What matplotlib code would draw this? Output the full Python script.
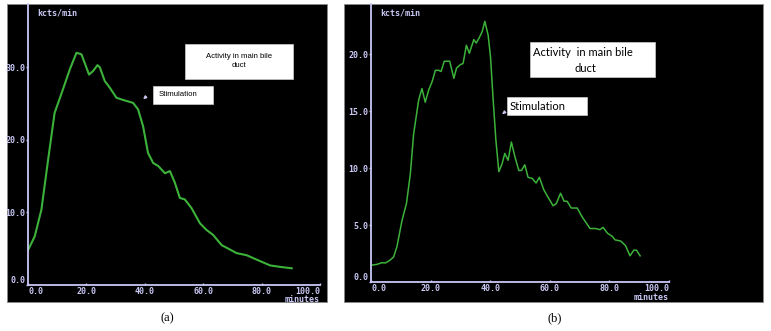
import numpy as np
import matplotlib.pyplot as plt
from matplotlib.patches import Rectangle

# panel (a): activity in main bile duct, kcts/min vs minutes
xA = [0, 2.3, 4.6, 6.9, 9.1, 12, 14.3, 16.6, 18.3, 20.9, 22.3, 23.8, 24.6, 26.3, 28,
      30.3, 32.6, 36, 37.7, 39.4, 41.1, 42.9, 44.6, 46.9, 48.6, 50.3, 52, 53.7, 56,
      58.9, 61.1, 63.4, 66.3, 69.1, 71.4, 74.9, 78.3, 82.9, 86.3, 90.3]
yA = [4.8, 6.7, 10.4, 17.3, 23.7, 27, 29.7, 32, 31.8, 29, 29.5, 30.3, 30, 28.1, 27.2,
      25.8, 25.5, 25.1, 24.2, 21.9, 18.2, 16.8, 16.4, 15.4, 15.7, 14.1, 12, 11.8, 10.6,
      8.5, 7.6, 6.9, 5.5, 4.9, 4.4, 4.1, 3.5, 2.7, 2.5, 2.3]

# panel (b)
xB = [0, 2, 3.7, 4.8, 6.3, 7.6, 8.7, 10.4, 11.9, 13.2, 14.3, 16, 17.1, 18.2, 19.4,
      20.5, 21.6, 22.7, 23.5, 24.6, 26.4, 27.8, 28.7, 30, 30.9, 32, 33, 34.5, 35.3,
      36.2, 37.3, 38.2, 39.3, 40.1, 41, 41.9, 42.9, 44, 44.9, 46, 47.1, 48.3, 49.6,
      50.5, 51.6, 52.7, 54.1, 55.4, 56.5, 58, 59.3, 61.1, 62.2, 63.6, 64.8, 65.8,
      67.2, 69.2, 70.9, 73.5, 75.4, 76.8, 77.9, 79.3, 81, 81.9, 83.8, 85.4, 86.9,
      88.2, 89.1, 90.3]
yB = [1.47, 1.55, 1.7, 1.67, 1.9, 2.2, 3.1, 5.4, 6.9, 9.5, 13, 16, 17, 15.8, 16.9,
      17.6, 18.6, 18.6, 18.5, 19.4, 19.4, 17.9, 18.8, 19.1, 19.2, 20.8, 20.1, 21.3, 21,
      21.4, 22, 22.9, 21.7, 19.8, 16, 12.5, 9.7, 10.4, 11.3, 10.7, 12.3, 11, 9.8,
      9.8, 10.3, 9.2, 9.1, 8.7, 9.2, 8.1, 7.5, 6.7, 6.9, 7.8, 7.1, 7.1,
      6.5, 6.5, 5.7, 4.7, 4.7, 4.6, 4.8, 4.3, 4.0, 3.7, 3.6, 3.2, 2.3,
      2.8, 2.8, 2.3]

xticks = [0, 20, 40, 60, 80, 100]
yticksA = [0, 10, 20, 30]
yticksB = [0, 5, 10, 15, 20]

W, H = 771, 331
AXC = '#c9c8f5'
GREEN = '#3cb23a'

fig = plt.figure(figsize=(7.71, 3.31), dpi=100)
fig.patch.set_facecolor('white')


def fr(x0, y0, x1, y1):
    # pixel box (top-left origin) -> figure fraction [l, b, w, h]
    return [x0 / W, 1 - y1 / H, (x1 - x0) / W, (y1 - y0) / H]


def panel(bg, ax_box, ymax, xs, ys, yt, lw):
    l, b, w, h = fr(*bg)
    rect = Rectangle((l, b), w, h, transform=fig.transFigure,
                     facecolor='black', edgecolor='#888888', lw=0.6, zorder=-5)
    fig.patches.append(rect)
    ax = fig.add_axes(fr(*ax_box))
    ax.set_facecolor('none')
    ax.plot(xs, ys, color=GREEN, lw=lw)
    ax.set_xlim(0, 100)
    ax.set_ylim(0, ymax)
    for s in ['top', 'right']:
        ax.spines[s].set_visible(False)
    for s in ['left', 'bottom']:
        ax.spines[s].set_color(AXC)
        ax.spines[s].set_linewidth(1.3)
    ax.set_xticks(xticks)
    ax.set_xticklabels(['%.1f' % v for v in xticks])
    ax.set_yticks(yt)
    ax.set_yticklabels(['%.1f' % v for v in yt])
    ax.tick_params(colors=AXC, labelsize=6, length=1.5, width=1, pad=0.5)
    ax.tick_params(axis='x', direction='in', pad=1.5)
    for t in ax.get_xticklabels() + ax.get_yticklabels():
        t.set_family('DejaVu Sans Mono')
        t.set_weight('bold')
    ax.get_xticklabels()[0].set_ha('left')
    ax.get_xticklabels()[-1].set_ha('right')
    ax.get_yticklabels()[0].set_va('bottom')
    bottom_px = ax_box[3]
    m = fig.text(ax_box[2] / W, 1 - (bottom_px + 15) / H, 'minutes', color=AXC, fontsize=6,
                 family='DejaVu Sans Mono', weight='bold', ha='right', va='center')
    m.set_clip_box(rect.get_window_extent(fig.canvas.get_renderer()))
    m.set_clip_on(True)
    ax.text(0.03, 0.985, 'kcts/min', transform=ax.transAxes, color=AXC, fontsize=6,
            family='DejaVu Sans Mono', weight='bold', ha='left', va='top')
    return ax


axA = panel((7, 4, 327, 302), (28, 4, 320, 285), 280 / 7.23, xA, yA, yticksA, 1.5)
axB = panel((344, 4, 763, 302), (371, 4, 669, 282), 278 / 11.38, xB, yB, yticksB, 1.1)


# white annotation boxes (pixel coords)
def wbox(x0, y0, x1, y1):
    l, b, w, h = fr(x0, y0, x1, y1)
    fig.patches.append(Rectangle((l, b), w, h, transform=fig.transFigure,
                                 facecolor='white', edgecolor='#cccccc', lw=0.5, zorder=3))


wbox(185, 44, 293, 79)
fig.text(239 / W, 1 - 61 / H, 'Activity in main bile\nduct', ha='center', va='center',
         fontsize=5.6, family='Liberation Sans', linespacing=1.3, zorder=4)
wbox(153, 86, 213, 104)
fig.text(159 / W, 1 - 95 / H, 'Stimulation', ha='left', va='center',
         fontsize=5.6, family='Liberation Sans', zorder=4)
wbox(530, 42, 655, 77)
fig.text(533 / W, 1 - 52 / H, 'Activity  in main bile', ha='left', va='center',
         fontsize=8, family='Lato', zorder=4)
fig.text(585 / W, 1 - 68 / H, 'duct', ha='center', va='center',
         fontsize=8, family='Lato', zorder=4)
wbox(507, 97, 587, 115)
fig.text(510 / W, 1 - 106 / H, 'Stimulation', ha='left', va='center',
         fontsize=8, family='Lato', zorder=4)

# small arrows pointing at stimulation time
for tip, tail in [((141, 101), (148, 95)), ((500, 116), (506, 111))]:
    fig.add_artist(plt.Annotation('', xy=(tip[0] / W, 1 - tip[1] / H),
                                  xytext=(tail[0] / W, 1 - tail[1] / H),
                                  xycoords='figure fraction',
                                  arrowprops=dict(arrowstyle='-|>', color=AXC, lw=1,
                                                  mutation_scale=4)))

fig.text(167 / W, 1 - 318 / H, '(a)', ha='center', va='center', fontsize=9,
         family='Liberation Serif')
fig.text(555 / W, 1 - 318 / H, '(b)', ha='center', va='center', fontsize=9,
         family='Liberation Serif')

fig.savefig('out.png', dpi=100)
